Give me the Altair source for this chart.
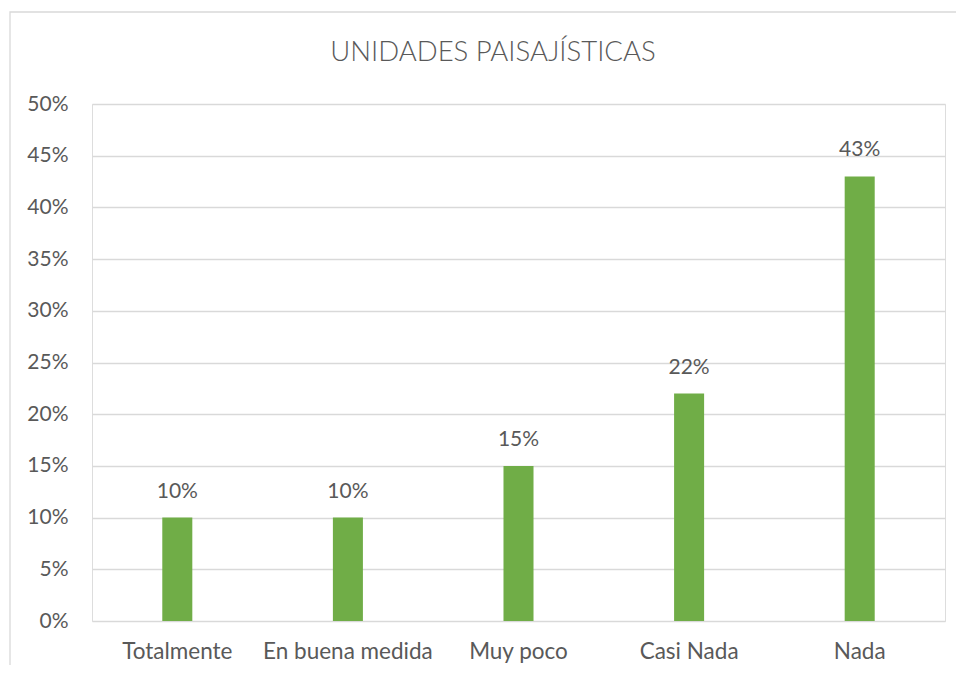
import altair as alt
import pandas as pd

title_text = "UNIDADES PAISAJÍSTICAS"
categories = ["Totalmente", "En buena medida", "Muy poco", "Casi Nada", "Nada"]
values = [0.10, 0.10, 0.15, 0.22, 0.43]
y_ticks = [0, 0.05, 0.10, 0.15, 0.20, 0.25, 0.30, 0.35, 0.40, 0.45, 0.50]

df = pd.DataFrame({"cat": categories, "val": values})
tdf = pd.DataFrame({"t": [title_text]})

FONT = "Lato"
GREY = "#595959"
FS = 21

x = alt.X("cat:N", sort=categories, title=None,
          scale=alt.Scale(paddingInner=0.824, paddingOuter=0.412),
          axis=alt.Axis(labelAngle=0, labelFontSize=22.5, labelColor=GREY, labelFont=FONT,
                        ticks=False, domain=False, labelPadding=19, grid=False))
y = alt.Y("val:Q", title=None,
          scale=alt.Scale(domain=[0, 0.5], nice=False),
          axis=alt.Axis(values=y_ticks, format=".0%", labelFontSize=FS, labelColor=GREY,
                        labelFont=FONT, ticks=False, domain=False, labelPadding=24,
                        gridColor="#d9d9d9", gridWidth=1.3))

border = alt.Chart(tdf).mark_rect(fill=None, stroke="#d9d9d9", strokeWidth=1.3, clip=False).encode(
    x=alt.value(-82), x2=alt.value(875), y=alt.value(-92), y2=alt.value(600)
)

title = alt.Chart(tdf).mark_text(fontSize=27.5, font=FONT, fontWeight=300, color=GREY,
                                 baseline="middle", align="center").encode(
    x=alt.value(401), y=alt.value(-51), text="t:N"
)

bars = alt.Chart(df).mark_bar(color="#70AD47").encode(x=x, y=y)

labels = alt.Chart(df).mark_text(dy=-26, fontSize=FS, color=GREY, font=FONT).encode(
    x=alt.X("cat:N", sort=categories), y="val:Q", text=alt.Text("val:Q", format=".0%")
)

chart = alt.layer(border, title, bars, labels).properties(
    width=853, height=517,
    autosize=alt.AutoSizeParams(type="none"),
    padding={"left": 84, "top": 96, "right": 11, "bottom": 44},
).configure_view(stroke=None).configure(background="white")

chart.save("out.html", embed_options={"renderer": "svg", "actions": False})
